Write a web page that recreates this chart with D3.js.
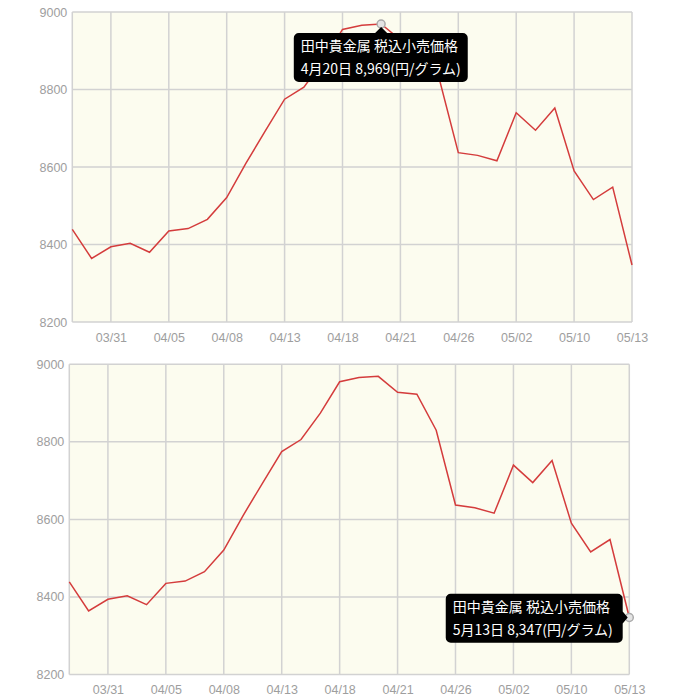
<!DOCTYPE html>
<html>
<head>
<meta charset="utf-8">
<script src="https://cdn.jsdelivr.net/npm/d3@7"></script>
<style>
  body { margin: 0; background: #fff; }
  svg { display: block; }
</style>
</head>
<body>
<svg id="chart" width="700" height="700"></svg>
<script>
// 営業日 (2022)
const dates = ["03/29", "03/30", "03/31", "04/01", "04/04", "04/05", "04/06", "04/07", "04/08", "04/11",
               "04/12", "04/13", "04/14", "04/15", "04/18", "04/19", "04/20", "04/21", "04/22", "04/25",
               "04/26", "04/27", "04/28", "05/02", "05/06", "05/09", "05/10", "05/11", "05/12", "05/13"];
const jpDates = dates.map(d => +d.slice(0, 2) + "月" + +d.slice(3) + "日");

// 田中貴金属 税込小売価格 (円/グラム)
const prices = [8439, 8364, 8394, 8403, 8380, 8435, 8441, 8465, 8521, 8610,
                8693, 8775, 8806, 8874, 8955, 8966, 8969, 8928, 8923, 8830,
                8637, 8630, 8616, 8740, 8695, 8752, 8590, 8516, 8548, 8347];

const yTicks = [8200, 8400, 8600, 8800, 9000];
const xTickLabels = ["03/31", "04/05", "04/08", "04/13", "04/18", "04/21", "04/26", "05/02", "05/10", "05/13"];

const seriesName = "田中貴金属 税込小売価格";
const unit = "(円/グラム)";

const svg = d3.select("#chart");

// 2枚のパネル
const panels = [
    { left: 72.3, top: 12, width: 559.7, height: 310, hover: 16, tip: "below" },
    { left: 69.3, top: 364.3, width: 560, height: 310.2, hover: 29, tip: "left" }
];

panels.forEach(p => drawPanel(p));

function drawPanel(p) {
    const g = svg.append("g").attr("transform", `translate(${p.left},${p.top})`);

    const x = d3.scalePoint().domain(dates).range([0, p.width]);
    const y = d3.scaleLinear().domain([8200, 9000]).range([p.height, 0]);

    // 背景
    g.append("rect")
        .attr("width", p.width)
        .attr("height", p.height)
        .attr("fill", "#fcfcef");

    // グリッド
    g.selectAll(".hgrid")
        .data(yTicks)
        .join("line")
        .attr("x1", 0).attr("x2", p.width)
        .attr("y1", d => y(d)).attr("y2", d => y(d))
        .attr("stroke", "#d2d2d2")
        .attr("stroke-width", 1.5);

    g.selectAll(".vgrid")
        .data([dates[0]].concat(xTickLabels))
        .join("line")
        .attr("x1", d => x(d)).attr("x2", d => x(d))
        .attr("y1", 0).attr("y2", p.height)
        .attr("stroke", "#d2d2d2")
        .attr("stroke-width", 1.5);

    // 軸ラベル
    const yAxis = d3.axisLeft(y).tickValues(yTicks).tickSize(0).tickPadding(5).tickFormat(d3.format("d"));
    const xAxis = d3.axisBottom(x).tickValues(xTickLabels).tickSize(0).tickPadding(11);

    const ya = g.append("g").call(yAxis);
    const xa = g.append("g").attr("transform", `translate(0,${p.height})`).call(xAxis);
    [ya, xa].forEach(a => {
        a.select(".domain").remove();
        a.selectAll("text")
            .attr("fill", "#9e9e9e")
            .style("font-family", "'Liberation Sans', Arial, sans-serif")
            .style("font-size", "12.5px");
    });

    // 折れ線
    const line = d3.line()
        .x((d, i) => x(dates[i]))
        .y(d => y(d));

    g.append("path")
        .datum(prices)
        .attr("fill", "none")
        .attr("stroke", "#d43c3c")
        .attr("stroke-width", 1.5)
        .attr("d", line);

    // ホバー点
    const hx = x(dates[p.hover]);
    const hy = y(prices[p.hover]);
    g.append("circle")
        .attr("cx", hx).attr("cy", hy).attr("r", 4)
        .attr("fill", "#e4e4e4")
        .attr("stroke", "#aaa")
        .attr("stroke-width", 1.5);

    // ツールチップ
    const tip = g.append("g");
    const box = tip.append("path").attr("fill", "#000");
    const txt = tip.append("g")
        .style("font-family", "'Noto Sans CJK JP', sans-serif")
        .style("font-size", "14px")
        .attr("fill", "#fff");
    const l1 = txt.append("text").attr("x", 0).attr("y", 0).text(seriesName);
    const l2 = txt.append("text").attr("x", 0).attr("y", 22.7)
        .text(jpDates[p.hover] + " " + d3.format(",")(prices[p.hover]) + unit);

    const w = Math.max(l1.node().getComputedTextLength(), l2.node().getComputedTextLength());
    const padL = 7, padR = p.tip === "left" ? 10 : 7, bh = 49, r = 5;
    const bw = w + padL + padR;
    let bx, by;
    if (p.tip === "below") {
        bx = hx - 87.3;
        by = hy + 9;
    } else {
        bx = hx - 6.6 - bw;
        by = hy - 23.7;
    }
    txt.attr("transform", `translate(${bx + padL},${by + 18.3})`);

    const path = d3.path();
    path.moveTo(bx + r, by);
    if (p.tip === "below") {
        path.lineTo(hx - 6, by);
        path.lineTo(hx, by - 6);
        path.lineTo(hx + 6, by);
    }
    path.lineTo(bx + bw - r, by);
    path.arcTo(bx + bw, by, bx + bw, by + r, r);
    if (p.tip === "left") {
        path.lineTo(bx + bw, hy - 6);
        path.lineTo(bx + bw + 5, hy);
        path.lineTo(bx + bw, hy + 6);
    }
    path.lineTo(bx + bw, by + bh - r);
    path.arcTo(bx + bw, by + bh, bx + bw - r, by + bh, r);
    path.lineTo(bx + r, by + bh);
    path.arcTo(bx, by + bh, bx, by + bh - r, r);
    path.lineTo(bx, by + r);
    path.arcTo(bx, by, bx + r, by, r);
    path.closePath();
    box.attr("d", path.toString());
}
</script>
</body>
</html>
